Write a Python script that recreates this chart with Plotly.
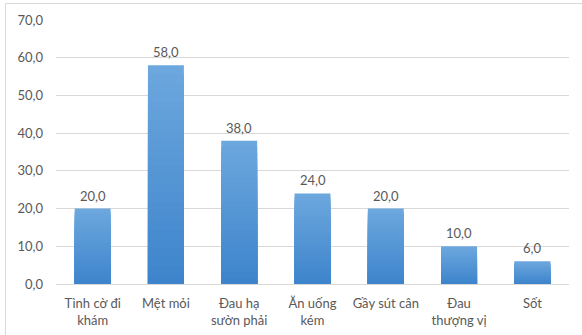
import plotly.graph_objects as go

# Symptom categories and percentages
categories = ["Tình cờ đi<br>khám", "Mệt mỏi", "Đau hạ<br>sườn phải", "Ăn uống<br>kém",
              "Gầy sút cân", "Đau<br>thượng vị", "Sốt"]
values = [20.0, 58.0, 38.0, 24.0, 20.0, 10.0, 6.0]
y_ticks = [0, 10, 20, 30, 40, 50, 60, 70]

FONT = "Lato, 'Open Sans', sans-serif"
TEXT_GRAY = "#595959"

# vertical gradient endpoints (top -> bottom)
top_rgb = (108, 167, 222)
bot_rgb = (60, 131, 203)

fig = go.Figure()

# Layered bars: each layer shorter and darker, giving a light-top / dark-bottom fill
steps = 24
for k in range(steps, 0, -1):
    frac = k / steps
    t = 1 - frac
    c = tuple(round(top_rgb[i] + (bot_rgb[i] - top_rgb[i]) * t) for i in range(3))
    fig.add_trace(go.Bar(
        x=categories,
        y=[v * frac for v in values],
        marker=dict(color=f"rgb{c}", line=dict(width=0)),
        width=0.49,
        hoverinfo="skip",
        showlegend=False,
    ))

# value labels above bars
for cat, v in zip(categories, values):
    fig.add_annotation(
        x=cat, y=v, xref="x", yref="y",
        text=f"{v:.1f}".replace(".", ","),
        showarrow=False, yanchor="bottom", yshift=3,
        font=dict(family=FONT, size=13, color=TEXT_GRAY),
    )

W, H = 582, 335
ml, mr, mt, mb = 56, 13, 20, 51
pw, ph = W - ml - mr, H - mt - mb

def px_x(p):
    return (p - ml) / pw

def px_y(p):
    return (H - mb - p) / ph

# outer chart frame
fig.add_shape(type="rect", xref="paper", yref="paper",
              x0=px_x(5.5), x1=px_x(590), y0=px_y(345), y1=px_y(3.5),
              line=dict(color="#d9d9d9", width=1), fillcolor="rgba(0,0,0,0)",
              layer="below")

fig.update_layout(
    width=W, height=H,
    margin=dict(l=ml, r=mr, t=mt, b=mb, autoexpand=False),
    barmode="overlay",
    separators=",.",
    paper_bgcolor="white",
    plot_bgcolor="white",
    font=dict(family=FONT, size=13, color=TEXT_GRAY),
    xaxis=dict(
        automargin=False,
        showgrid=False,
        showline=True, linecolor="#d9d9d9", linewidth=1,
        ticks="", ticklabelstandoff=7,
        tickfont=dict(family=FONT, size=13, color=TEXT_GRAY),
        fixedrange=True,
    ),
    yaxis=dict(
        automargin=False,
        range=[0, 70],
        tickvals=y_ticks,
        tickformat=".1f",
        showgrid=True, gridcolor="#d9d9d9", gridwidth=1,
        zeroline=False,
        ticks="", ticklabelstandoff=12,
        tickfont=dict(family=FONT, size=13, color=TEXT_GRAY),
        fixedrange=True,
    ),
)

fig.write_html("out.html")
